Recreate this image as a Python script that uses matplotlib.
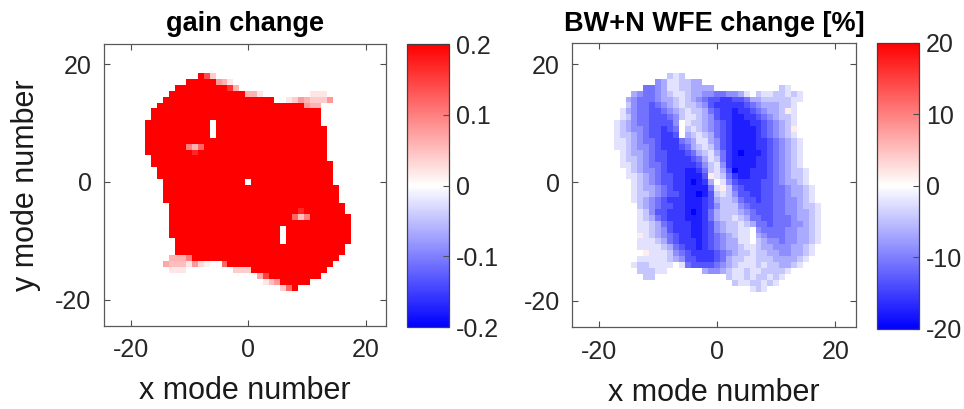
import numpy as np
import matplotlib
matplotlib.use('Agg')
import matplotlib.pyplot as plt

plt.rcParams['font.family'] = ['Liberation Sans', 'DejaVu Sans']
plt.rcParams['axes.unicode_minus'] = False

# mode grid (-24 .. 23 in x and y)
modes = np.arange(-24, 24)

# gain change: saturated (>= 0.2) span of each y row, (x_first, x_last)
gain_span = {
    18: (-8, -8), 17: (-10, -6), 16: (-12, -4), 15: (-13, -1), 14: (-14, 4),
    13: (-15, 9), 12: (-16, 12), 11: (-16, 12), 10: (-17, 12), 9: (-17, 13),
    8: (-17, 13), 7: (-17, 13), 6: (-17, 13), 5: (-17, 13), 4: (-16, 13),
    3: (-16, 14), 2: (-15, 14), 1: (-15, 14), 0: (-14, 14), -1: (-14, 15),
    -2: (-14, 15), -3: (-14, 15), -4: (-13, 16), -5: (-13, 16), -6: (-13, 17),
    -7: (-13, 17), -8: (-13, 17), -9: (-13, 17), -10: (-12, 17), -11: (-12, 16),
    -12: (-12, 16), -13: (-9, 15), -14: (-3, 14), -15: (1, 13), -16: (4, 12),
    -17: (6, 10), -18: (8, 8),
}
# gain change: single cells that are paler or missing (x, y, value)
gain_cells = [
    (-7, 18, 0.14), (-6, 18, 0.04),
    (-5, 17, 0.08), (-4, 17, 0.06), (-3, 17, 0.02),
    (-3, 16, 0.16), (-2, 16, 0.06),
    (0, 15, 0.06), (1, 15, 0.06), (2, 15, 0.02), (11, 15, 0.02), (12, 15, 0.02), (13, 15, 0.02),
    (7, 14, 0.02), (8, 14, 0.04), (9, 14, 0.08), (10, 14, 0.06), (11, 14, 0.04),
    (12, 14, 0.04), (13, 14, 0.04), (14, 14, 0.08),
    (10, 13, 0.08), (11, 13, 0.06), (12, 13, 0.06),
    (-6, 10, np.nan), (-6, 9, np.nan), (-6, 8, np.nan),
    (-10, 6, 0.10), (-9, 6, 0.06), (-8, 6, 0.12), (-9, 5, 0.17),
    (0, 0, np.nan),
    (9, -5, 0.17), (8, -6, 0.12), (9, -6, 0.05), (10, -6, 0.10),
    (6, -8, np.nan), (6, -9, np.nan), (6, -10, np.nan),
    (-13, -13, 0.06), (-12, -13, 0.06), (-11, -13, 0.06), (-10, -13, 0.10),
    (-14, -14, 0.07), (-13, -14, 0.05), (-12, -14, 0.05), (-11, -14, 0.05), (-10, -14, 0.02),
    (-9, -14, 0.08), (-8, -14, 0.03), (-7, -14, 0.01), (-4, -14, 0.12),
    (-13, -15, 0.02), (-12, -15, 0.02), (-11, -15, 0.02),
    (-2, -15, 0.04), (-1, -15, 0.04), (0, -15, 0.04),
    (2, -16, 0.07), (3, -16, 0.15),
    (3, -17, 0.02), (4, -17, 0.05), (5, -17, 0.08),
    (6, -18, 0.04), (7, -18, 0.12),
]

# BW+N WFE change [%]: one string per y row starting at x_first
# digit k -> -2.2*k %, 'r' -> slightly positive, '.' -> no data
wfe_rows = {
    18: (-8, "212"),
    17: (-10, "43112233"),
    16: (-12, "554311223333...........21"),
    15: (-14, "34554321123344554431021122121"),
    14: (-15, "345554332123456677665332222211"),
    13: (-15, "24556543212234677777654333221"),
    12: (-16, "1345566543212235677877654332r1"),
    11: (-16, "124556665421123467788776543221"),
    10: (-17, "12345566664.1223456788877654321"),
    9: (-17, "12344566765.212345678888765432r"),
    8: (-17, "12234566776.3212356788887654321"),
    7: (-17, "11234556777543113467888877654321"),
    6: (-17, "11234456777653212467888877654321"),
    5: (-16, "1233456677765321357898887654321"),
    4: (-16, "1223456677776531257888877654321"),
    3: (-16, "1123455677777642147888877654321"),
    2: (-15, "1234456777887521369887776543221"),
    1: (-15, "11234566778886r1257887776543221"),
    0: (-14, "12345667789873.146777766543321"),
    -1: (-14, "123345677888851r256777665543321"),
    -2: (-14, "1223456678898621246677665543321"),
    -3: (-14, "1234567778887632235667665544321"),
    -4: (-13, "2345667788876422245666655443221"),
    -5: (-13, "1246677789875322234566655443321"),
    -6: (-13, "1235677788875322123556655543321"),
    -7: (-13, "1123567778876432212355655544321"),
    -8: (-13, "1123467778876432211.45555443321"),
    -9: (-13, "r123456778876543211.34555443321"),
    -10: (-13, "1112356777876543311.23445443321"),
    -11: (-13, "111123567787654332112334443321"),
    -12: (-12, "r1112456777765432212233443321"),
    -13: (-13, "11111234667776532211222333321"),
    -14: (-14, "12211110156666543211121223321"),
    -15: (-13, "22211......344321121122221"),
    -16: (-12, "22............2112122121"),
    -17: (3, "21122121"),
    -18: (6, "121"),
}

gain_ticks = [-0.2, -0.1, 0, 0.1, 0.2]
gain_ticklabels = ['-0.2', '-0.1', '0', '0.1', '0.2']
wfe_ticks = [-20, -10, 0, 10, 20]
axis_ticks = [-20, 0, 20]

n = len(modes)
off = -modes[0]

gain = np.full((n, n), np.nan)
for y, (x0, x1) in gain_span.items():
    gain[y + off, x0 + off:x1 + off + 1] = 0.25
for x, y, v in gain_cells:
    gain[y + off, x + off] = v

wfe = np.full((n, n), np.nan)
for y, (x0, s) in wfe_rows.items():
    for i, ch in enumerate(s):
        if ch.isdigit():
            wfe[y + off, x0 + i + off] = -2.2 * int(ch)
        elif ch == 'r':
            wfe[y + off, x0 + i + off] = 1.5

fig = plt.figure(figsize=(9.64, 4.09), dpi=100)

ax1 = fig.add_axes([0.108, 0.203, 0.2925, 0.690])
cax1 = fig.add_axes([0.4225, 0.200, 0.0436, 0.692])
ax2 = fig.add_axes([0.5937, 0.200, 0.2943, 0.694])
cax2 = fig.add_axes([0.9094, 0.196, 0.0442, 0.700])

im1 = ax1.pcolormesh(modes, modes, gain, cmap='bwr', vmin=-0.2, vmax=0.2, shading='nearest')
im2 = ax2.pcolormesh(modes, modes, wfe, cmap='bwr', vmin=-20, vmax=20, shading='nearest')

for ax, title in [(ax1, 'gain change'), (ax2, 'BW+N WFE change [%]')]:
    ax.set_xlim(-24.5, 23.5)
    ax.set_ylim(-24.5, 23.5)
    ax.set_xticks(axis_ticks)
    ax.set_yticks(axis_ticks)
    ax.tick_params(direction='in', length=4, width=0.8, color='0.3', labelsize=18,
                   labelcolor='0.15', top=True, right=True, pad=9)
    for sp in ax.spines.values():
        sp.set_color('0.35')
        sp.set_linewidth(0.9)
    ax.set_title(title, fontsize=19.5, fontweight='bold', pad=9)
    ax.set_xlabel('x mode number', fontsize=22, color='0.1', labelpad=10)

ax1.set_ylabel('y mode number', fontsize=22, color='0.1', labelpad=10)

cb1 = fig.colorbar(im1, cax=cax1)
cb1.set_ticks(gain_ticks)
cb1.set_ticklabels(gain_ticklabels)
cb2 = fig.colorbar(im2, cax=cax2)
cb2.set_ticks(wfe_ticks)
for cb in (cb1, cb2):
    cb.ax.tick_params(direction='in', length=4, width=0.8, color='0.3', labelsize=18,
                      labelcolor='0.15', pad=5)
    cb.outline.set_edgecolor('0.25')
    cb.outline.set_linewidth(0.9)

fig.savefig('out.png', dpi=100)
